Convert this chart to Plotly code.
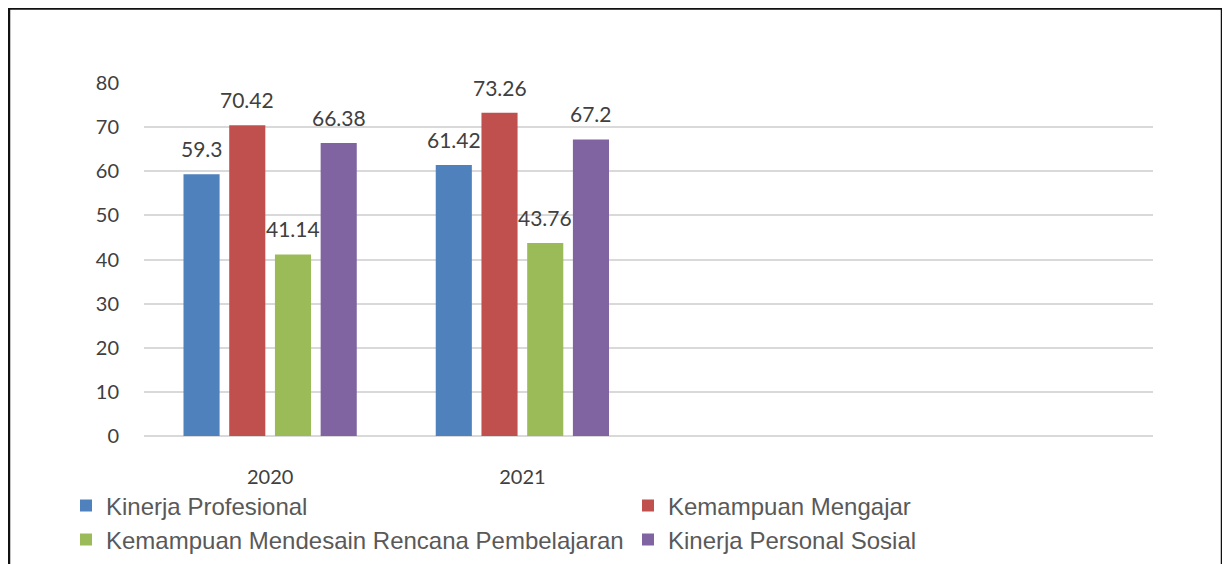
import plotly.graph_objects as go

years = ["2020", "2021"]
series_names = ["Kinerja Profesional", "Kemampuan Mengajar",
                "Kemampuan Mendesain Rencana Pembelajaran", "Kinerja Personal Sosial"]
kinerja_profesional = [59.3, 61.42]
kemampuan_mengajar = [70.42, 73.26]
kemampuan_mendesain = [41.14, 43.76]
kinerja_personal = [66.38, 67.2]
y_ticks = [0, 10, 20, 30, 40, 50, 60, 70, 80]
n_slots = 4  # category slots on the axis (only two are filled)

values = [kinerja_profesional, kemampuan_mengajar, kemampuan_mendesain, kinerja_personal]
colors = ["#4F81BD", "#C0504D", "#9BBB59", "#8064A2"]
legend_ids = ["legend", "legend2", "legend3", "legend4"]
# legend grid: (left x px, text-centre y px) in figure pixels
legend_pos = [(58, 498), (620, 498), (58, 532), (620, 532)]

W, H = 1230, 564
ml, mr, mt, mb = 136, 85, 75, 136
bargap, bargroupgap = 0.275, 0.21
FONT_NUM = "Lato"
FONT_LEG = "Liberation Sans"

fig = go.Figure()
xpos = list(range(len(years)))
group_w = 1 - bargap
slot_w = group_w / len(values)
for k, (name, vals, col, lg) in enumerate(zip(series_names, values, colors, legend_ids)):
    fig.add_trace(go.Bar(x=xpos, y=vals, name=name, marker_color=col,
                         marker_line_width=0, legend=lg))
    for i, v in enumerate(vals):
        xc = i - group_w / 2 + (k + 0.5) * slot_w
        fig.add_annotation(x=xc, y=v, text=str(v), showarrow=False,
                           yanchor="bottom", yshift=11,
                           font=dict(family=FONT_NUM, size=21, color="#404040"))

plot_w = W - ml - mr
plot_h = H - mt - mb
# outer frame
fig.add_shape(type="rect", xref="paper", yref="paper",
              x0=(1 - ml) / plot_w, x1=(1214 - ml) / plot_w,
              y0=(H - mb - 620) / plot_h, y1=(H - mb - 0.5) / plot_h,
              line=dict(color="#111111", width=2.5), layer="below")

legend_layout = {}
for lg, (lx, ly) in zip(legend_ids, legend_pos):
    legend_layout[lg] = dict(orientation="h", xref="container", yref="container",
                             x=lx / W, xanchor="left", y=1 - ly / H, yanchor="middle",
                             font=dict(family=FONT_LEG, size=24, color="#595959"),
                             bgcolor="rgba(0,0,0,0)")

fig.update_layout(
    width=W, height=H,
    margin=dict(l=ml, r=mr, t=mt, b=mb, autoexpand=False),
    paper_bgcolor="white", plot_bgcolor="white",
    barmode="group", bargap=bargap, bargroupgap=bargroupgap,
    xaxis=dict(range=[-0.5, n_slots - 0.5], tickmode="array", tickvals=xpos,
               ticktext=years, showgrid=False, zeroline=False,
               showline=False, ticks="", ticklabelstandoff=27,
               tickfont=dict(family=FONT_NUM, size=20, color="#404040")),
    yaxis=dict(range=[0, 80], tickmode="array", tickvals=y_ticks,
               showgrid=True, gridcolor="#D9D9D9", gridwidth=1.5,
               zeroline=True, zerolinecolor="#D9D9D9", zerolinewidth=1.5,
               showline=False, ticks="", ticklabelstandoff=24,
               tickfont=dict(family=FONT_NUM, size=20, color="#404040")),
    showlegend=True,
    **legend_layout,
)

fig.write_html("out.html")
